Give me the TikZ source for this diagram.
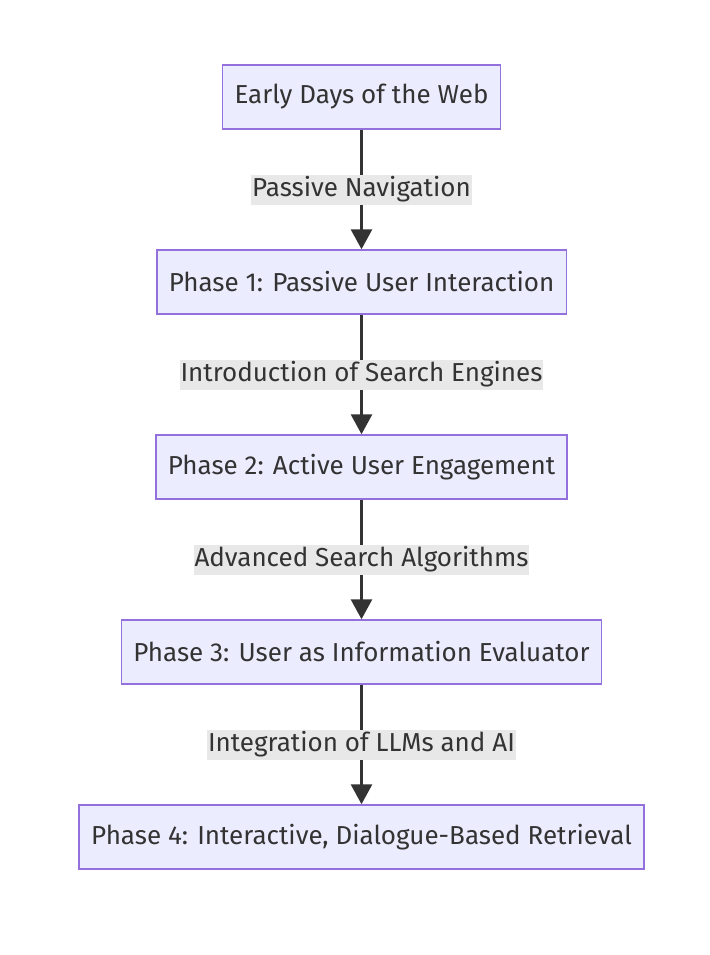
\documentclass[tikz,border=0pt]{standalone}
\usepackage{fontspec}
\setmainfont{Fira Sans}
\usetikzlibrary{arrows.meta, positioning}
\definecolor{boxfill}{HTML}{ECECFF}
\definecolor{boxdraw}{HTML}{9370DB}
\definecolor{inkgray}{HTML}{333333}
\definecolor{lblbg}{HTML}{E8E8E8}
\tikzset{
  % fase del flusso
  phasebox/.style={draw=boxdraw, line width=1.5pt, fill=boxfill, minimum height=64pt,
    inner xsep=12pt, align=center, text=inkgray, font=\fontsize{26}{30}\selectfont},
  % etichetta di un collegamento
  edgelbl/.style={fill=lblbg, inner xsep=1pt, inner ysep=0pt, minimum height=30pt,
    text=inkgray, font=\fontsize{26}{30}\selectfont},
  % freccia
  flow/.style={-{Triangle[length=20pt, width=21pt]}, line width=3pt, draw=inkgray},
}

\begin{document}
\begin{tikzpicture}[x=1pt, y=1pt, node distance=119.5pt]
  \useasboundingbox (0,0) rectangle (709,-955);
  \node[phasebox] (web) at (361.5,-97) {Early Days of the Web};
  \node[phasebox, below=of web] (p1) {Phase 1: Passive User Interaction};
  \node[phasebox, below=of p1] (p2) {Phase 2: Active User Engagement};
  \node[phasebox, below=of p2] (p3) {Phase 3: User as Information Evaluator};
  \node[phasebox, below=of p3] (p4) {Phase 4: Interactive, Dialogue-Based Retrieval};
  \draw[flow] (web) -- node[edgelbl] {Passive Navigation} (p1);
  \draw[flow] (p1) -- node[edgelbl] {Introduction of Search Engines} (p2);
  \draw[flow] (p2) -- node[edgelbl] {Advanced Search Algorithms} (p3);
  \draw[flow] (p3) -- node[edgelbl] {Integration of LLMs and AI} (p4);
\end{tikzpicture}
\end{document}
